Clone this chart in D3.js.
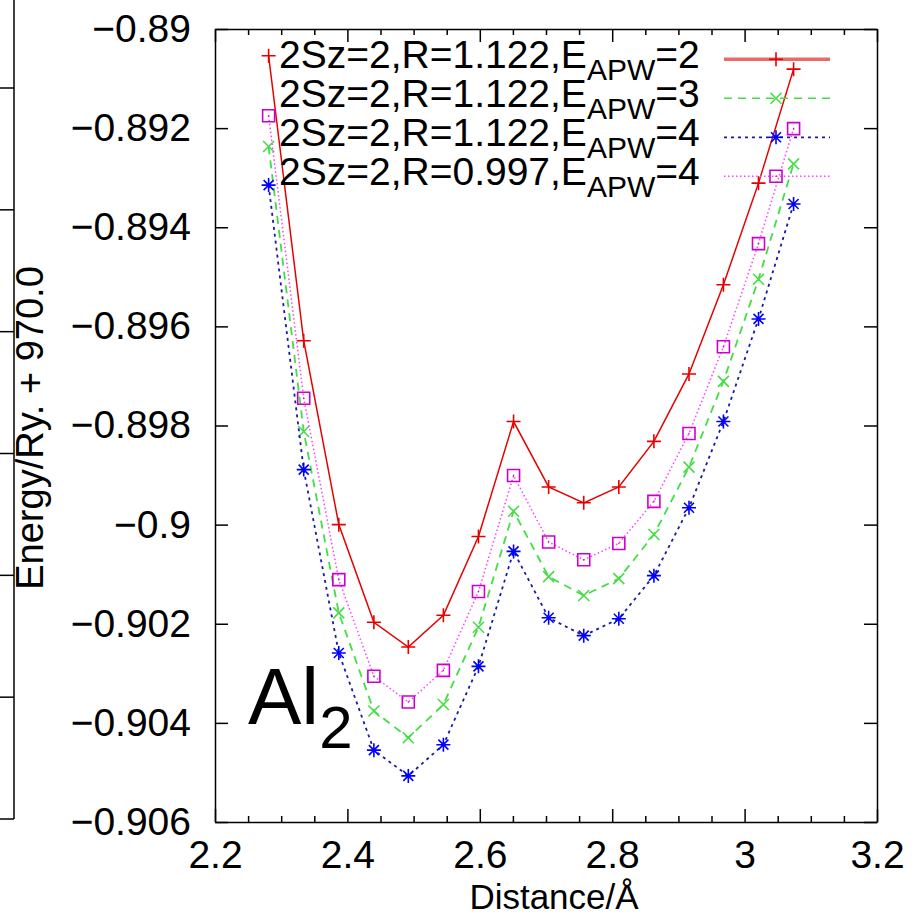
<!DOCTYPE html>
<html lang="en">
<head>
<meta charset="utf-8">
<title>Al2 energy vs distance</title>
<script src="https://d3js.org/d3.v7.min.js"></script>
<style>
  body { margin: 0; background: #fff; }
  svg { display: block; font-family: "Liberation Sans", Arial, sans-serif; }
  .axis path, .axis line { stroke: #000; stroke-width: 1.5; }
  .axis text { font-size: 39px; fill: #000; font-family: "Liberation Sans", Arial, sans-serif; }
</style>
</head>
<body>
<script>
// data
const distance = [2.281, 2.334, 2.387, 2.440, 2.492, 2.545, 2.598, 2.651, 2.704, 2.757, 2.810, 2.863, 2.916, 2.968, 3.021, 3.074];
const energyE2 = [-0.89054, -0.89629, -0.90000, -0.90197, -0.90247, -0.90183, -0.90024, -0.89792, -0.89924, -0.89956, -0.89924, -0.89832, -0.89696, -0.89516, -0.89311, -0.89081];
const energyE3 = [-0.89237, -0.89812, -0.90178, -0.90376, -0.90430, -0.90363, -0.90207, -0.89973, -0.90105, -0.90143, -0.90109, -0.90020, -0.89884, -0.89711, -0.89505, -0.89272];
const energyE4 = [-0.89315, -0.89889, -0.90259, -0.90455, -0.90507, -0.90444, -0.90286, -0.90054, -0.90188, -0.90224, -0.90190, -0.90103, -0.89966, -0.89792, -0.89585, -0.89353];
const energyR0997 = [-0.89175, -0.89745, -0.90111, -0.90306, -0.90358, -0.90294, -0.90135, -0.89901, -0.90035, -0.90071, -0.90038, -0.89953, -0.89816, -0.89641, -0.89433, -0.89201];

const seriesLabels = ["2Sz=2,R=1.122,E", "2Sz=2,R=1.122,E", "2Sz=2,R=1.122,E", "2Sz=2,R=0.997,E"];
const seriesApw = ["2", "3", "4", "4"];

const xTicks = [2.2, 2.4, 2.6, 2.8, 3, 3.2];
const xMinorTicks = [2.25, 2.3, 2.35, 2.45, 2.5, 2.55, 2.65, 2.7, 2.75, 2.85, 2.9, 2.95, 3.05, 3.1, 3.15];
const yTicks = [-0.906, -0.904, -0.902, -0.9, -0.898, -0.896, -0.894, -0.892, -0.89];
// clipped axis of the neighbouring panel on the far left
const ghostTicks = [1, 2, 3, 4, 5, 6];

const w = 916, h = 917;
const plotLeft = 215, plotRight = 877, plotTop = 29, plotBottom = 822;

const svg = d3.select("body").append("svg")
    .attr("width", w)
    .attr("height", h);

svg.append("rect").attr("width", w).attr("height", h).attr("fill", "#fff");

const x = d3.scaleLinear().domain([2.2, 3.2]).range([plotLeft, plotRight]);
const y = d3.scaleLinear().domain([-0.906, -0.89]).range([plotBottom, plotTop]);
const fmt = d3.format("~g");

// leftover axis from the other panel
const ghost = d3.scaleLinear().domain([0, 6]).range([819, 88]);
svg.append("line").attr("x1", 14).attr("x2", 14).attr("y1", 0).attr("y2", ghost(0))
    .attr("stroke", "#000").attr("stroke-width", 1.5);
svg.append("line").attr("x1", 0).attr("x2", 14).attr("y1", ghost(0)).attr("y2", ghost(0))
    .attr("stroke", "#000").attr("stroke-width", 1.5);
svg.selectAll("line.ghost").data(ghostTicks).enter().append("line")
    .attr("class", "ghost")
    .attr("x1", 0).attr("x2", 14)
    .attr("y1", d => ghost(d)).attr("y2", d => ghost(d))
    .attr("stroke", "#000").attr("stroke-width", 1.5);

// axes, gnuplot style: ticks pointing in, mirrored
svg.append("g").attr("class", "axis")
    .attr("transform", `translate(0,${plotBottom})`)
    .call(d3.axisBottom(x).tickValues(xTicks).tickFormat(fmt).tickSize(-13).tickPadding(18).tickSizeOuter(0));
svg.append("g").attr("class", "axis")
    .attr("transform", `translate(0,${plotBottom})`)
    .call(d3.axisBottom(x).tickValues(xMinorTicks).tickFormat("").tickSize(-6).tickSizeOuter(0))
    .select(".domain").remove();
svg.append("g").attr("class", "axis")
    .attr("transform", `translate(0,${plotTop})`)
    .call(d3.axisTop(x).tickValues(xTicks).tickFormat("").tickSize(-13).tickSizeOuter(0));
svg.append("g").attr("class", "axis")
    .attr("transform", `translate(0,${plotTop})`)
    .call(d3.axisTop(x).tickValues(xMinorTicks).tickFormat("").tickSize(-6).tickSizeOuter(0))
    .select(".domain").remove();
svg.append("g").attr("class", "axis")
    .attr("transform", `translate(${plotLeft},0)`)
    .call(d3.axisLeft(y).tickValues(yTicks).tickFormat(fmt).tickSize(-13).tickPadding(24).tickSizeOuter(0));
svg.append("g").attr("class", "axis")
    .attr("transform", `translate(${plotRight},0)`)
    .call(d3.axisRight(y).tickValues(yTicks).tickFormat("").tickSize(-13).tickSizeOuter(0));

// axis titles
svg.append("text")
    .attr("x", (plotLeft + plotRight) / 2 + 8).attr("y", 909)
    .attr("text-anchor", "middle")
    .attr("font-size", 35)
    .text("Distance/Å");

svg.append("text")
    .attr("transform", "translate(43,428) rotate(-90)")
    .attr("text-anchor", "middle")
    .attr("font-size", 38)
    .text("Energy/Ry. + 970.0");

// molecule label
const al = svg.append("text").attr("x", 248).attr("y", 724).attr("font-size", 80);
al.append("tspan").text("Al");
al.append("tspan").attr("font-size", 60).attr("dy", 24).text("2");

// markers
const markerPath = {
    plus: "M-7,0H7M0,-7V7",
    cross: "M-5.5,-5.5L5.5,5.5M-5.5,5.5L5.5,-5.5",
    star: "M-7,0H7M0,-7V7M-5,-5L5,5M-5,5L5,-5",
    box: "M-6,-6H6V6H-6Z M-0.6,0H0.6"
};

const series = [
    { values: energyE2, color: "#e60000", legendColor: "#ea6a6a", legendWidth: 3.5, dash: null, width: 1.5, marker: "plus", mcolor: "#e60000" },
    { values: energyE3, color: "#44dd44", legendColor: "#44dd44", legendWidth: 1.5, dash: "8,6", width: 1.8, marker: "cross", mcolor: "#44dd44" },
    { values: energyE4, color: "#1a1aa8", legendColor: "#1a1aa8", legendWidth: 1.8, dash: "3,4", width: 1.8, marker: "star", mcolor: "#0000ff" },
    { values: energyR0997, color: "#ff40ff", legendColor: "#ff40ff", legendWidth: 1.5, dash: "1.5,2.5", width: 1.5, marker: "box", mcolor: "#cc00cc" }
];

const line = d3.line().x((d, i) => x(distance[i])).y(d => y(d));

series.forEach((s, k) => {
    const g = svg.append("g").attr("class", "series");
    g.append("path")
        .attr("d", line(s.values))
        .attr("fill", "none")
        .attr("stroke", s.color)
        .attr("stroke-width", s.width)
        .attr("stroke-dasharray", s.dash);
    g.selectAll("path.mark").data(s.values).enter().append("path")
        .attr("class", "mark")
        .attr("transform", (d, i) => `translate(${x(distance[i])},${y(d)})`)
        .attr("d", markerPath[s.marker])
        .attr("fill", "none")
        .attr("stroke", s.mcolor)
        .attr("stroke-width", 1.6);

    // legend row
    const ly = 59.3 + k * 39;
    const t = svg.append("text").attr("x", 279).attr("y", ly + 9).attr("font-size", 39);
    t.append("tspan").text(seriesLabels[k]);
    t.append("tspan").attr("font-size", 30).attr("dy", 12).text("APW");
    t.append("tspan").attr("dy", -12).text("=" + seriesApw[k]);

    svg.append("line")
        .attr("x1", 724).attr("x2", 830).attr("y1", ly).attr("y2", ly)
        .attr("stroke", s.legendColor)
        .attr("stroke-width", s.legendWidth)
        .attr("stroke-dasharray", s.dash);
    svg.append("path")
        .attr("transform", `translate(776,${ly})`)
        .attr("d", markerPath[s.marker])
        .attr("fill", "none")
        .attr("stroke", s.mcolor)
        .attr("stroke-width", 1.6);
});
</script>
</body>
</html>
